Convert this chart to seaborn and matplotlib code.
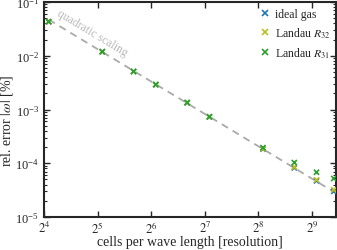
import numpy as np
import pandas as pd
import matplotlib
matplotlib.use("Agg")
import matplotlib.pyplot as plt
import seaborn as sns

resolution = [17, 34, 51, 68, 102, 136, 272, 408, 544, 680]
err_ideal = [0.043, 0.0119, 0.0051, 0.0029, 0.00133, 0.00073, 0.000183, 8.2e-5, 4.7e-5, 3.0e-5]
err_r32 = [0.043, 0.0119, 0.0051, 0.0029, 0.00134, 0.00073, 0.000185, 8.5e-5, 4.9e-5, 3.2e-5]
err_r31 = [0.043, 0.0119, 0.0051, 0.0029, 0.00135, 0.00073, 0.000195, 1.03e-4, 6.8e-5, 5.2e-5]
series_names = ["ideal gas", r"Landau $R_{32}$", r"Landau $R_{31}$"]
series_colors = ["#1f77b4", "#bcbd22", "#2ca02c"]
scaling_x = [17, 700]
scaling_coef = 13.6
xtick_exps = [4, 5, 6, 7, 8, 9]

sns.set_style("ticks")
plt.rcParams["font.family"] = ["Liberation Serif", "DejaVu Serif"]
plt.rcParams["mathtext.fontset"] = "stix"

df = pd.DataFrame({
    "res": resolution * 3,
    "err": err_ideal + err_r32 + err_r31,
    "series": [series_names[0]] * 10 + [series_names[1]] * 10 + [series_names[2]] * 10,
})

fig = plt.figure(figsize=(3.37, 2.51), dpi=100)
ax = fig.add_axes([44 / 337, 1 - 218 / 251, 292 / 337, 215 / 251])

sx = np.array(scaling_x, dtype=float)
ax.plot(sx, scaling_coef / sx**2, ls="--", color="#aaaaaa", lw=1.3, dashes=(4, 3), zorder=1)

sns.scatterplot(data=df, x="res", y="err", hue="series", palette=series_colors,
                marker="x", s=14, linewidth=1.2, ax=ax, zorder=3, clip_on=True)

ax.set_xscale("log", base=2)
ax.set_yscale("log")
ax.set_xlim(16, 700)
ax.set_ylim(1e-5, 1e-1)
ax.set_xticks([2**e for e in xtick_exps])
ax.set_xticklabels([f"$2^{{{e}}}$" for e in xtick_exps])
ax.xaxis.set_minor_locator(matplotlib.ticker.NullLocator())
ax.tick_params(which="both", direction="in", top=True, right=True, labelsize=9)
ax.tick_params(which="major", length=4, width=1)
ax.tick_params(which="minor", length=2, width=0.8)
ax.tick_params(axis="x", pad=2)
for s in ax.spines.values():
    s.set_linewidth(1.5)

ax.set_xlabel("cells per wave length [resolution]", fontsize=10)
ax.set_ylabel(r"rel. error $|\omega|$ [%]", fontsize=10)
ax.xaxis.set_label_coords(0.5, -0.085)
ax.yaxis.set_label_coords(-0.1, 0.45)

ax.text(30, 0.027, "quadratic scaling", color="#bbbbbb", fontsize=8.5,
        rotation=-31, ha="center", va="center", rotation_mode="anchor")

leg = ax.legend(loc="upper right", frameon=False, fontsize=8.5, handletextpad=0.3,
                handlelength=1.0, borderaxespad=0.1, labelspacing=0.45)

fig.savefig("out.png", dpi=100)
